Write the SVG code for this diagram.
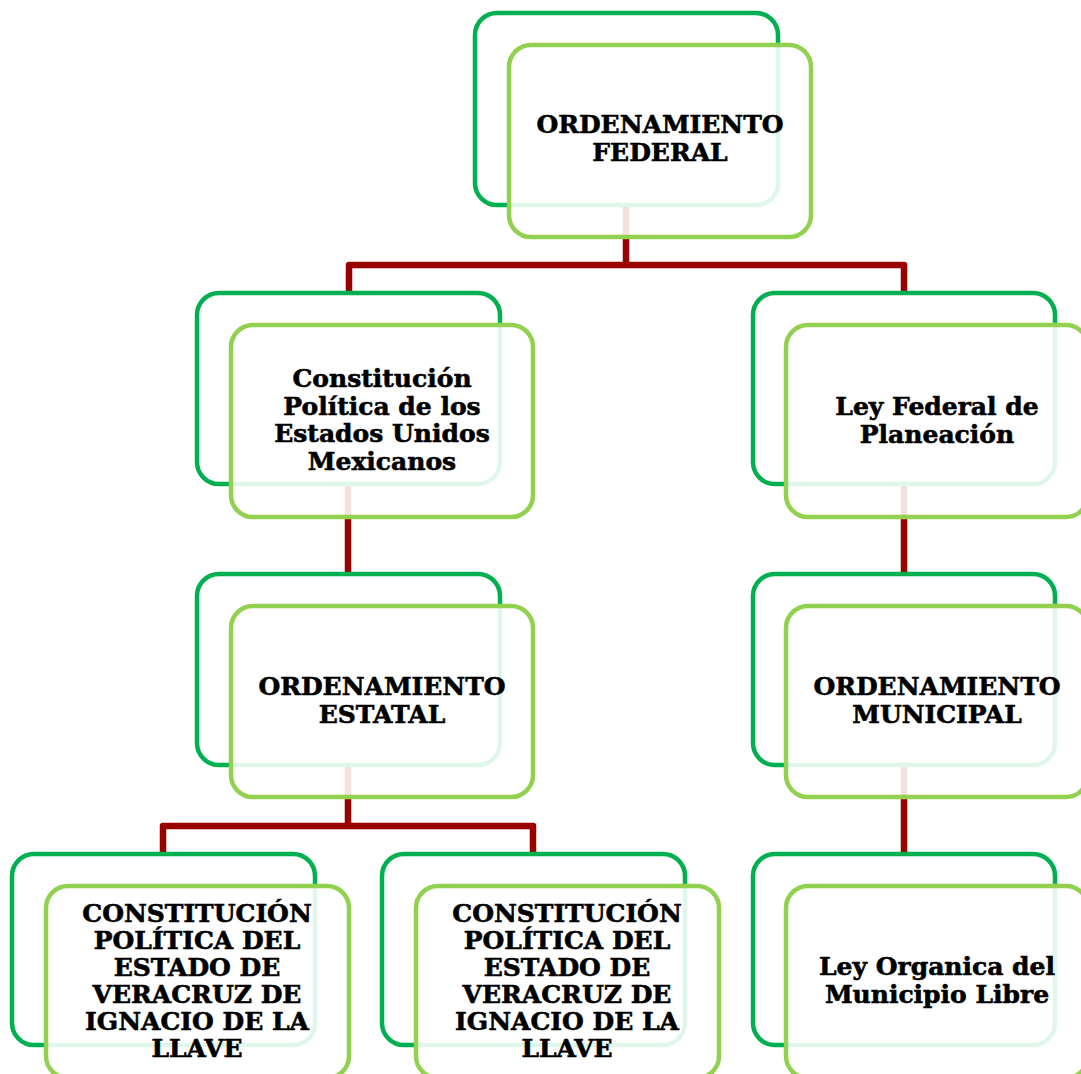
<svg xmlns="http://www.w3.org/2000/svg" width="1081" height="1074" viewBox="0 0 1081 1074">
<style>
.back{fill:#ffffff;stroke:#00b050;stroke-width:4.5}
.front{fill:#ffffff;fill-opacity:0.88;stroke:#92d050;stroke-width:4.5}
.conn{fill:none;stroke:#990000;stroke-width:6.5;stroke-linejoin:round}
.t{font-family:"DejaVu Serif","Liberation Serif",serif;font-weight:bold;font-size:25px;fill:#000;stroke:#000;stroke-width:0.6;text-anchor:middle}
</style>
<rect width="1081" height="1074" fill="#ffffff"/>
<g id="connectors">
<path class="conn" d="M626 205 V265 M349 293 V265 H904 V293"/>
<path class="conn" d="M348 484 V575"/>
<path class="conn" d="M904 484 V575"/>
<path class="conn" d="M348 765 V826 M163 854 V826 H533 V854"/>
<path class="conn" d="M904 765 V854"/>
</g>
<g id="n-federal">
<rect class="back" x="475" y="13" width="303" height="192" rx="22"/>
<rect class="front" x="509" y="45" width="302" height="192" rx="22"/>
<text class="t" x="660" y="133">ORDENAMIENTO</text>
<text class="t" x="660" y="161">FEDERAL</text>
</g>
<g id="n-constitucion">
<rect class="back" x="197" y="293" width="303" height="191" rx="22"/>
<rect class="front" x="231" y="325" width="302" height="192" rx="22"/>
<text class="t" x="382" y="387">Constitución</text>
<text class="t" x="382" y="415">Política de los</text>
<text class="t" x="382" y="442">Estados Unidos</text>
<text class="t" x="382" y="470">Mexicanos</text>
</g>
<g id="n-leyfederal">
<rect class="back" x="753" y="293" width="302" height="191" rx="22"/>
<rect class="front" x="786" y="325" width="302" height="192" rx="22"/>
<text class="t" x="937" y="415">Ley Federal de</text>
<text class="t" x="937" y="443">Planeación</text>
</g>
<g id="n-estatal">
<rect class="back" x="197" y="574" width="303" height="191" rx="22"/>
<rect class="front" x="231" y="606" width="302" height="191" rx="22"/>
<text class="t" x="382" y="695">ORDENAMIENTO</text>
<text class="t" x="382" y="723">ESTATAL</text>
</g>
<g id="n-municipal">
<rect class="back" x="753" y="574" width="302" height="191" rx="22"/>
<rect class="front" x="786" y="606" width="302" height="191" rx="22"/>
<text class="t" x="937" y="695">ORDENAMIENTO</text>
<text class="t" x="937" y="723">MUNICIPAL</text>
</g>
<g id="n-veracruz1">
<rect class="back" x="12" y="854" width="303" height="191" rx="22"/>
<rect class="front" x="46" y="886" width="303" height="192" rx="22"/>
<text class="t" x="197" y="922">CONSTITUCIÓN</text>
<text class="t" x="197" y="949">POLÍTICA DEL</text>
<text class="t" x="197" y="976">ESTADO DE</text>
<text class="t" x="197" y="1003">VERACRUZ DE</text>
<text class="t" x="197" y="1030">IGNACIO DE LA</text>
<text class="t" x="197" y="1057">LLAVE</text>
</g>
<g id="n-veracruz2">
<rect class="back" x="382" y="854" width="303" height="191" rx="22"/>
<rect class="front" x="416" y="886" width="303" height="192" rx="22"/>
<text class="t" x="567" y="922">CONSTITUCIÓN</text>
<text class="t" x="567" y="949">POLÍTICA DEL</text>
<text class="t" x="567" y="976">ESTADO DE</text>
<text class="t" x="567" y="1003">VERACRUZ DE</text>
<text class="t" x="567" y="1030">IGNACIO DE LA</text>
<text class="t" x="567" y="1057">LLAVE</text>
</g>
<g id="n-organica">
<rect class="back" x="753" y="854" width="302" height="191" rx="22"/>
<rect class="front" x="786" y="886" width="302" height="192" rx="22"/>
<text class="t" x="937" y="975">Ley Organica del</text>
<text class="t" x="937" y="1003">Municipio Libre</text>
</g>
</svg>
